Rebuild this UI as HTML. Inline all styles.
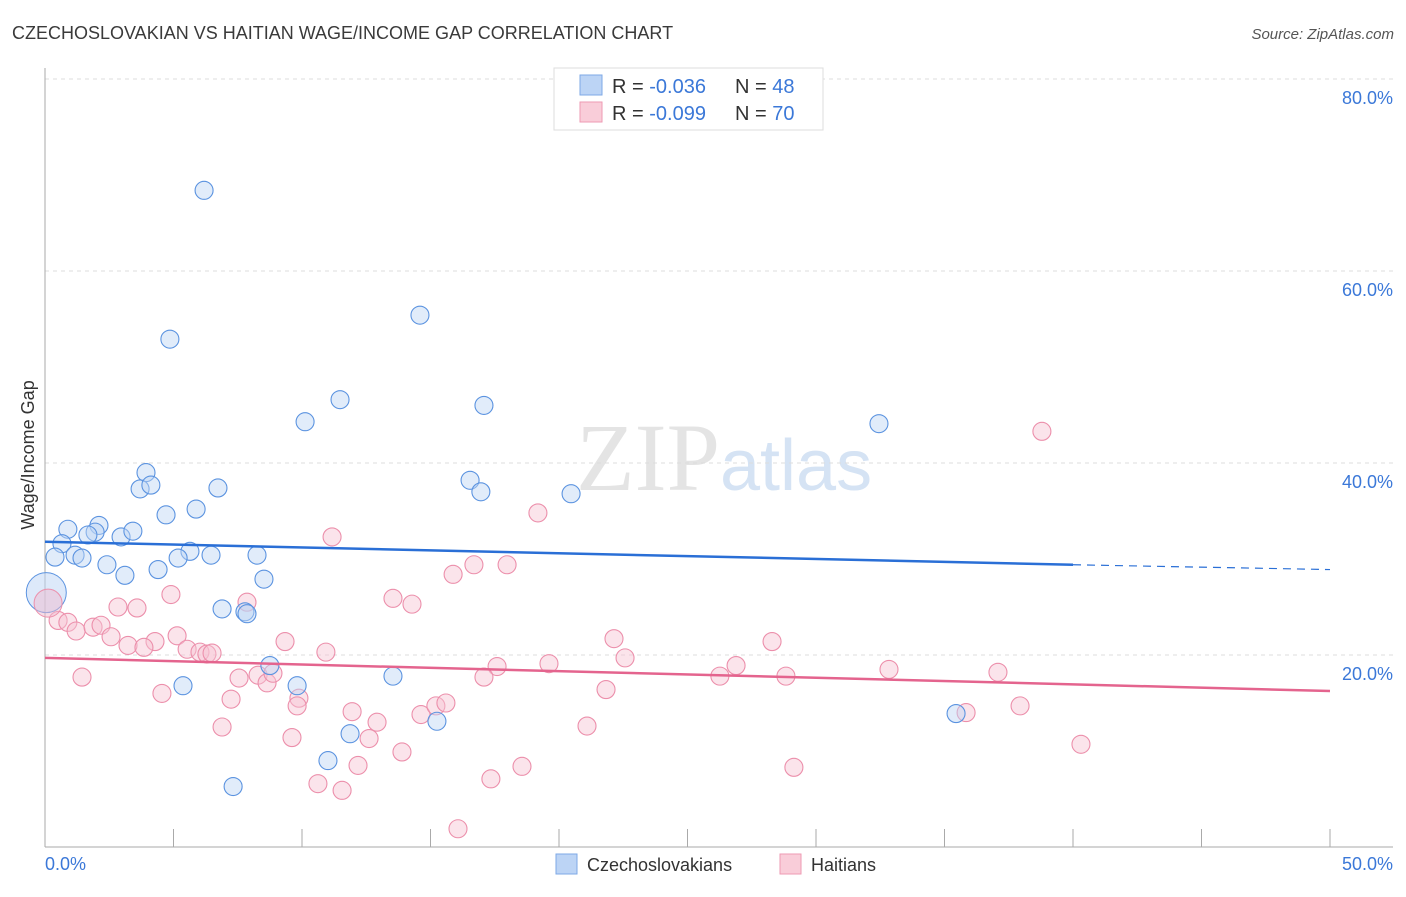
<!DOCTYPE html>
<html><head><meta charset="utf-8"><style>
body{margin:0;background:#fff;font-family:"Liberation Sans",sans-serif}
</style></head><body>
<svg width="1406" height="892" xmlns="http://www.w3.org/2000/svg" style="font-family:'Liberation Sans',sans-serif">
<text x="12" y="39" font-size="18" fill="#3a3a3a">CZECHOSLOVAKIAN VS HAITIAN WAGE/INCOME GAP CORRELATION CHART</text>
<text x="1394" y="39" font-size="15" fill="#555" font-style="italic" text-anchor="end">Source: ZipAtlas.com</text>
<text x="720" y="490" font-size="96" fill="#e4e4e4" text-anchor="end" font-family="Liberation Serif">ZIP</text>
<text x="720" y="490" font-size="72" fill="#d5e3f4">atlas</text>
<g id="grid"></g>
<g id="axes"></g>
<text x="34" y="455" font-size="18" fill="#333" text-anchor="middle" transform="rotate(-90 34 455)">Wage/Income Gap</text>
<text x="45" y="870" font-size="18" fill="#3b78d8">0.0%</text>
<text x="1393" y="870" font-size="18" fill="#3b78d8" text-anchor="end">50.0%</text>
<g id="marks"></g>
<g>
<rect x="554" y="68" width="269" height="62" fill="#fff" stroke="#ddd"/>
<rect x="580" y="75" width="22" height="20" fill="#bcd4f5" stroke="#7ea8e6"/>
<text x="612" y="93" font-size="20" fill="#333">R = <tspan fill="#3b78d8">-0.036</tspan></text>
<text x="735" y="93" font-size="20" fill="#333">N = <tspan fill="#3b78d8">48</tspan></text>
<rect x="580" y="102" width="22" height="20" fill="#f9cdd9" stroke="#ee9ab3"/>
<text x="612" y="120" font-size="20" fill="#333">R = <tspan fill="#3b78d8">-0.099</tspan></text>
<text x="735" y="120" font-size="20" fill="#333">N = <tspan fill="#3b78d8">70</tspan></text>
</g>
<g>
<rect x="556" y="854" width="21" height="20" fill="#bcd4f5" stroke="#7ea8e6"/>
<text x="587" y="871" font-size="18" fill="#333">Czechoslovakians</text>
<rect x="780" y="854" width="21" height="20" fill="#f9cdd9" stroke="#ee9ab3"/>
<text x="811" y="871" font-size="18" fill="#333">Haitians</text>
</g>
</svg>
<script>
const yTicks=[20,40,60,80];
const yTickLabels=["20.0%","40.0%","60.0%","80.0%"];
const xTicks=[0,5,10,15,20,25,30,35,40,45,50];
const czechX=[6.19,4.86,14.59,11.48,10.12,17.08,32.45,3.93,3.70,4.12,6.73,16.54,16.96,20.47,4.71,5.88,0.89,2.10,1.95,1.67,2.96,3.42,0.66,0.39,1.17,1.44,5.64,5.18,6.46,8.25,2.41,4.40,3.11,8.52,6.89,7.78,7.86,8.75,5.37,9.81,13.54,11.87,15.25,11.01,7.32,35.45];
const czechY=[68.4,52.9,55.4,46.6,44.3,46.0,44.1,39.0,37.3,37.7,37.4,38.2,37.0,36.8,34.6,35.2,33.1,33.5,32.8,32.5,32.3,32.9,31.6,30.2,30.4,30.1,30.8,30.1,30.4,30.4,29.4,28.9,28.3,27.9,24.8,24.5,24.3,18.9,16.8,16.8,17.8,11.8,13.1,9.0,6.3,13.9];
const haitiX=[38.79,19.18,11.17,16.69,17.98,15.88,13.54,14.28,4.90,7.86,2.84,3.58,0.51,0.89,1.21,1.87,2.18,2.57,3.23,4.28,3.85,5.14,5.53,6.03,6.30,6.50,22.14,28.29,9.34,10.93,22.57,19.61,17.59,17.08,26.89,26.26,28.83,32.84,37.08,1.44,4.55,7.55,8.29,8.64,8.87,9.88,9.81,7.24,6.89,9.61,11.95,12.61,12.92,14.63,15.21,15.60,21.83,37.94,35.84,21.09,13.89,12.18,18.56,17.35,29.14,10.62,11.56,16.07,40.31];
const haitiY=[43.3,34.8,32.3,29.4,29.4,28.4,25.9,25.3,26.3,25.5,25.0,24.9,23.6,23.4,22.5,22.9,23.1,21.9,21.0,21.4,20.8,22.0,20.6,20.3,20.1,20.2,21.7,21.4,21.4,20.3,19.7,19.1,18.8,17.7,18.9,17.8,17.8,18.5,18.2,17.7,16.0,17.6,17.9,17.1,18.1,15.5,14.7,15.4,12.5,11.4,14.1,11.3,13.0,13.8,14.7,15.0,16.4,14.7,14.0,12.6,9.9,8.5,8.4,7.1,8.3,6.6,5.9,1.9,10.7];
const bigPoints=[[0.05,26.5,'czech'],[0.12,25.4,'haiti']];
const czechTrend=[[0,31.8],[40,29.4],[50,28.9]];
const haitiTrend=[[0,19.7],[50,16.25]];
const X=v=>45+v*25.7, Y=v=>847-v*9.6;
const NS="http://www.w3.org/2000/svg";
function mk(t,a,p){const e=document.createElementNS(NS,t);for(const k in a)e.setAttribute(k,a[k]);p.appendChild(e);return e;}
const grid=document.getElementById('grid'),axes=document.getElementById('axes'),marks=document.getElementById('marks');
yTicks.forEach((t,i)=>{
 const l=mk('line',{x1:45,x2:1393,y1:Y(t),y2:Y(t),stroke:'#ddd','stroke-dasharray':'4,4'},grid);
 
 
 const tx=mk('text',{x:1393,y:Y(t)+25,'font-size':18,fill:'#3b78d8','text-anchor':'end'},grid);
 tx.textContent=yTickLabels[i];
 
 
});
const ya=mk('line',{x1:45,x2:45,y1:68,y2:847,stroke:'#aaa'},axes);


const xa=mk('line',{x1:45,x2:1393,y1:847,y2:847,stroke:'#aaa'},axes);


xTicks.forEach(t=>{const l=mk('line',{x1:X(t),x2:X(t),y1:829,y2:847,stroke:'#aaa'},axes);
 
 });
function dots(xs,ys,fill,stroke,name){xs.forEach((x,i)=>{const c=mk('circle',{cx:X(x),cy:Y(ys[i]),r:9,fill:fill,'fill-opacity':0.45,stroke:stroke,'stroke-width':1.1},marks);
 
 });}
dots(haitiX,haitiY,'#f7c3d2','#ec8fab','haitian-point');
dots(czechX,czechY,'#bcd4f5','#5b93e0','czech-point');
bigPoints.forEach(p=>{const c=mk('circle',{cx:X(p[0]),cy:Y(p[1]),r:p[2]=='czech'?20:14,fill:p[2]=='czech'?'#bcd4f5':'#f0bcd0','fill-opacity':0.5,stroke:p[2]=='czech'?'#5b93e0':'#ec8fab'},marks);
 
 });
const ct1=mk('line',{x1:X(czechTrend[0][0]),y1:Y(czechTrend[0][1]),x2:X(czechTrend[1][0]),y2:Y(czechTrend[1][1]),stroke:'#2a6fd6','stroke-width':2.5},marks);


const ct2=mk('line',{x1:X(czechTrend[1][0]),y1:Y(czechTrend[1][1]),x2:X(czechTrend[2][0]),y2:Y(czechTrend[2][1]),stroke:'#2a6fd6','stroke-width':1.2,'stroke-dasharray':'8,6'},marks);


const ht=mk('line',{x1:X(haitiTrend[0][0]),y1:Y(haitiTrend[0][1]),x2:X(haitiTrend[1][0]),y2:Y(haitiTrend[1][1]),stroke:'#e4648e','stroke-width':2.5},marks);


</script>
</body></html>
